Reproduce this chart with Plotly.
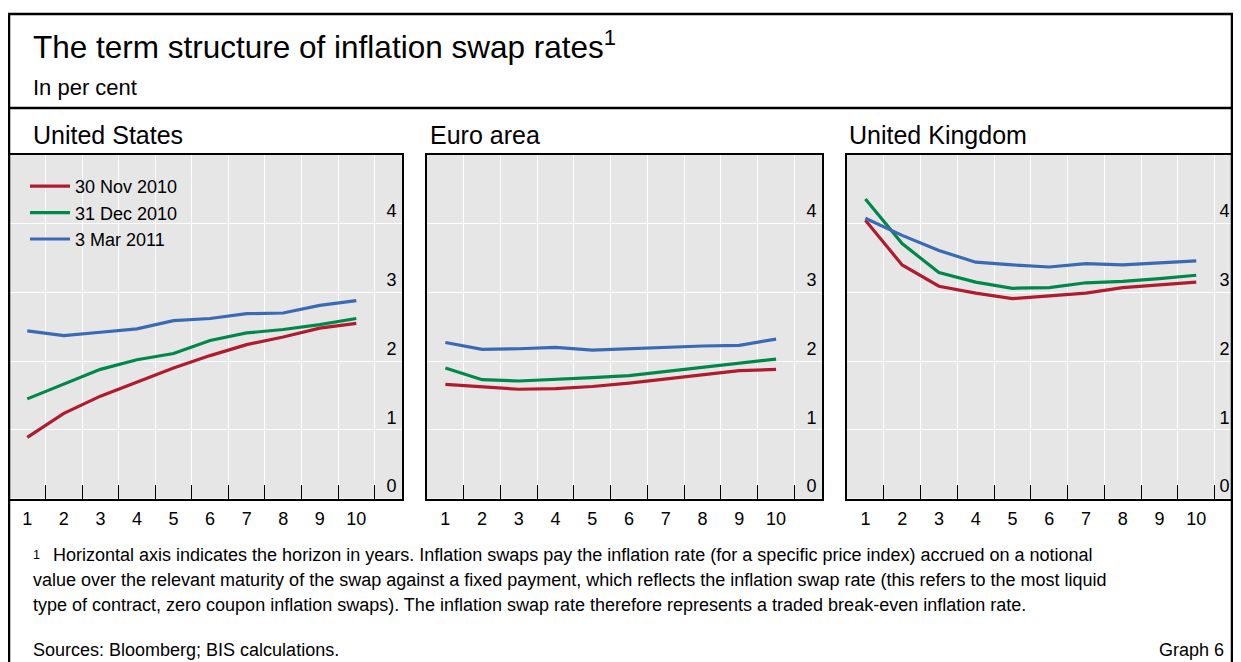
import plotly.graph_objects as go

# Horizon in years and swap rates (per cent)
maturities = [1, 2, 3, 4, 5, 6, 7, 8, 9, 10]

us_nov = [0.89, 1.24, 1.49, 1.70, 1.90, 2.08, 2.24, 2.35, 2.48, 2.55]
us_dec = [1.45, 1.67, 1.88, 2.02, 2.11, 2.30, 2.41, 2.46, 2.53, 2.62]
us_mar = [2.44, 2.37, 2.42, 2.47, 2.59, 2.62, 2.69, 2.70, 2.81, 2.88]

ea_nov = [1.66, 1.62, 1.59, 1.60, 1.63, 1.68, 1.74, 1.80, 1.86, 1.88]
ea_dec = [1.90, 1.73, 1.71, 1.73, 1.76, 1.79, 1.85, 1.91, 1.97, 2.03]
ea_mar = [2.27, 2.17, 2.18, 2.20, 2.16, 2.18, 2.21, 2.22, 2.23, 2.32]

uk_nov = [4.05, 3.40, 3.09, 2.99, 2.91, 2.95, 2.99, 3.07, 3.11, 3.15]
uk_dec = [4.36, 3.71, 3.29, 3.15, 3.06, 3.07, 3.14, 3.16, 3.20, 3.25]
uk_mar = [4.08, 3.83, 3.61, 3.44, 3.40, 3.37, 3.42, 3.40, 3.43, 3.46]

series_names = ["30 Nov 2010", "31 Dec 2010", "3 Mar 2011"]
y_ticks = [0, 1, 2, 3, 4]

RED = "#B01C2E"
GREEN = "#00884A"
BLUE = "#3A6AB4"
PANEL_BG = "#E6E6E6"
FONT = "Arial, 'Liberation Sans', sans-serif"

# the page body has an 8px margin, so the figure starts at (8, 8) on screen
OFF = 8
W, H = 1241 - 2 * OFF, 662 - OFF


def px_x(x):
    # screen x (pixels of the 1241x662 page) -> paper fraction
    return (x - OFF) / W


def px_y(y):
    return 1 - (y - OFF) / H


# (title, series, panel left, panel right, x max, label standoff, title x)
panels = [
    ("United States", [us_nov, us_dec, us_mar], 9, 402, 11.25, 5, 31),
    ("Euro area", [ea_nov, ea_dec, ea_mar], 427, 822, 11.25, 5, 428),
    ("United Kingdom", [uk_nov, uk_dec, uk_mar], 847, 1233, 11.0, 3, 847),
]
colors = [RED, GREEN, BLUE]

fig = go.Figure()
layout = dict(
    width=W, height=H, autosize=False,
    margin=dict(l=0, r=0, t=0, b=0),
    paper_bgcolor="white",
    plot_bgcolor=PANEL_BG,
    font=dict(family=FONT, color="black", size=18),
    legend=dict(
        x=px_x(25), y=px_y(168), xanchor="left", yanchor="top",
        bgcolor="rgba(0,0,0,0)", font=dict(size=18), tracegroupgap=0,
        itemwidth=40,
    ),
    annotations=[],
    shapes=[],
)

for i, (title, data, left, right, xmax, standoff, title_x) in enumerate(panels):
    n = "" if i == 0 else str(i + 1)
    for name, vals, col in zip(series_names, data, colors):
        fig.add_trace(go.Scatter(
            x=maturities, y=vals, mode="lines", name=name,
            line=dict(color=col, width=3.2),
            xaxis="x" + n, yaxis="y" + n,
            showlegend=(i == 0),
        ))
    layout["xaxis" + n] = dict(
        domain=[max(px_x(left), 0), min(px_x(right), 1)], anchor="y" + n,
        range=[0.5, xmax],
        tickmode="array", tickvals=maturities, ticktext=[str(m) for m in maturities],
        ticks="", showgrid=False, zeroline=False,
        showline=True, mirror=True, linecolor="black", linewidth=2,
        tickfont=dict(size=18, color="black"),
        ticklabelstandoff=3,
        minor=dict(
            tickmode="array", tickvals=[m + 0.5 for m in maturities],
            ticks="inside", ticklen=14, tickcolor="black", tickwidth=1,
            showgrid=True, gridcolor="white", gridwidth=1,
        ),
        fixedrange=True,
    )
    layout["yaxis" + n] = dict(
        domain=[px_y(498.5), px_y(155)], anchor="x" + n,
        side="right", range=[0, 5],
        tickmode="array", tickvals=y_ticks,
        ticks="", ticklabelposition="inside top", ticklabelstandoff=standoff,
        showgrid=True, gridcolor="white", gridwidth=1, zeroline=False,
        showline=True, mirror=True, linecolor="black", linewidth=2,
        tickfont=dict(size=18, color="black"),
        fixedrange=True,
    )
    layout["annotations"].append(dict(
        text=title, x=px_x(title_x), y=px_y(135), xref="paper", yref="paper",
        xanchor="left", yanchor="middle", showarrow=False, font=dict(size=25),
    ))

# Header and footer texts
layout["annotations"] += [
    dict(text="The term structure of inflation swap rates<sup>1</sup>",
         x=px_x(31), y=px_y(45), font=dict(size=31.5)),
    dict(text="In per cent", x=px_x(31), y=px_y(87), font=dict(size=22)),
    dict(text="<sup>1</sup>", x=px_x(31), y=px_y(555), font=dict(size=18)),
    dict(text="Horizontal axis indicates the horizon in years. Inflation swaps pay the inflation rate "
              "(for a specific price index) accrued on a notional",
         x=px_x(51), y=px_y(555), font=dict(size=18)),
    dict(text="value over the relevant maturity of the swap against a fixed payment, which reflects the "
              "inflation swap rate (this refers to the most liquid",
         x=px_x(31), y=px_y(580), font=dict(size=18)),
    dict(text="type of contract, zero coupon inflation swaps). The inflation swap rate therefore represents "
              "a traded break-even inflation rate.",
         x=px_x(31), y=px_y(605), font=dict(size=18)),
    dict(text="Sources: Bloomberg; BIS calculations.", x=px_x(31), y=px_y(650), font=dict(size=18)),
    dict(text="Graph 6", x=px_x(1226), y=px_y(650), xanchor="right", font=dict(size=18)),
]
for a in layout["annotations"][3:]:
    a.setdefault("xref", "paper")
    a.setdefault("yref", "paper")
    a.setdefault("xanchor", "left")
    a.setdefault("yanchor", "middle")
    a.setdefault("showarrow", False)

# Frame and separator
layout["shapes"] += [
    dict(type="rect", xref="paper", yref="paper",
         x0=px_x(9), x1=px_x(1232), y0=px_y(700), y1=px_y(14),
         line=dict(color="black", width=2.5)),
    dict(type="line", xref="paper", yref="paper",
         x0=px_x(9), x1=px_x(1232), y0=px_y(108), y1=px_y(108),
         line=dict(color="black", width=2.5)),
]

fig.update_layout(**layout)
fig.write_html("out.html")
